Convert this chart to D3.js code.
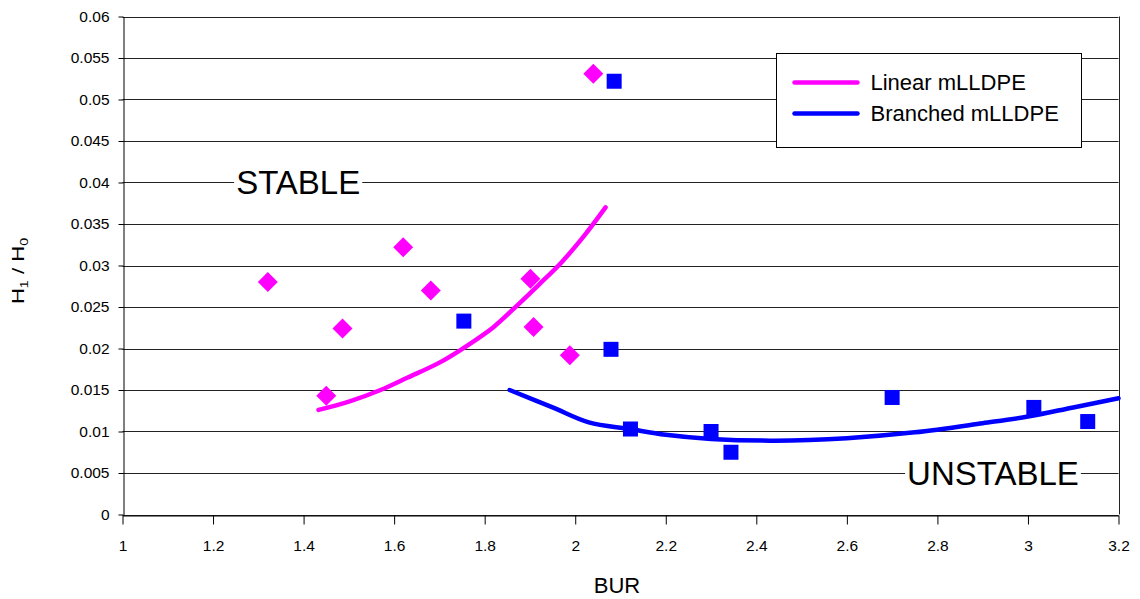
<!DOCTYPE html>
<html>
<head>
<meta charset="utf-8">
<script src="https://cdn.jsdelivr.net/npm/d3@7"></script>
<style>
  html, body { margin: 0; padding: 0; background: #fff; }
  svg { display: block; font-family: "Liberation Sans", Arial, sans-serif; }
</style>
</head>
<body>
<div id="chart"></div>
<script>
// measured points (BUR vs H1/H0)
const linearX = [1.321, 1.486, 1.450, 1.620, 1.681, 1.901, 1.908, 1.988, 2.040];
const linearY = [0.0280, 0.0224, 0.0143, 0.0322, 0.0270, 0.0284, 0.0226, 0.0192, 0.0531];
const branchedX = [1.754, 2.086, 2.079, 2.122, 2.300, 2.344, 2.700, 3.013, 3.132];
const branchedY = [0.0233, 0.0522, 0.0199, 0.0103, 0.0100, 0.0075, 0.0141, 0.0129, 0.0112];

// fitted curves
const linearFitX = [1.433, 1.50, 1.57, 1.63, 1.70, 1.76, 1.82, 1.872, 1.92, 1.97, 2.02, 2.067];
const linearFitY = [0.0126, 0.0136, 0.0150, 0.0165, 0.0183, 0.0203, 0.0226, 0.0252, 0.0277, 0.0304, 0.0336, 0.0370];
const branchedFitX = [1.855, 1.95, 2.03, 2.12, 2.20, 2.30, 2.44, 2.60, 2.75, 2.90, 3.00, 3.10, 3.20];
const branchedFitY = [0.0150, 0.0129, 0.0111, 0.0103, 0.0096, 0.0091, 0.0089, 0.0092, 0.0099, 0.0110, 0.0118, 0.0129, 0.0140];

const xTicks = [1, 1.2, 1.4, 1.6, 1.8, 2, 2.2, 2.4, 2.6, 2.8, 3, 3.2];
const yTicks = [0, 0.005, 0.01, 0.015, 0.02, 0.025, 0.03, 0.035, 0.04, 0.045, 0.05, 0.055, 0.06];
const seriesNames = ["Linear mLLDPE", "Branched mLLDPE"];
const seriesColors = ["#ff00ff", "#0000ff"];

const width = 1140, height = 599;

const svg = d3.select("#chart").append("svg")
    .attr("width", width)
    .attr("height", height);

const x = d3.scaleLinear().domain([1, 3.2]).range([122.5, 1118.5]);
const y = d3.scaleLinear().domain([0, 0.06]).range([514.5, 16.5]);

// gridlines
svg.append("g")
  .selectAll("line")
  .data(yTicks)
  .join("line")
    .attr("x1", x(1)).attr("x2", x(3.2))
    .attr("y1", d => Math.round(y(d)) + 0.5)
    .attr("y2", d => Math.round(y(d)) + 0.5)
    .attr("stroke", "#222")
    .attr("stroke-width", 1);

// right border
svg.append("line")
    .attr("x1", Math.round(x(3.2)) + 0.5).attr("x2", Math.round(x(3.2)) + 0.5)
    .attr("y1", y(0.06)).attr("y2", y(0))
    .attr("stroke", "#222");

// axes
const yAxis = svg.append("g")
    .attr("transform", `translate(${Math.round(x(1)) + 0.5},0)`)
    .call(d3.axisLeft(y).tickValues(yTicks).tickFormat(d3.format("")).tickSize(5).tickPadding(9).tickSizeOuter(0));
yAxis.selectAll("text").attr("font-size", 15.5).attr("fill", "#000");

const xAxis = svg.append("g")
    .attr("transform", `translate(0,${Math.round(y(0)) + 0.5})`)
    .call(d3.axisBottom(x).tickValues(xTicks).tickFormat(d3.format("")).tickSize(9).tickPadding(15).tickSizeOuter(0));
xAxis.selectAll("text").attr("font-size", 15.5).attr("fill", "#000");

svg.selectAll(".domain, .tick line").attr("stroke", "#000");

// region labels
function regionLabel(txt, xv, yv) {
  const g = svg.append("g");
  const t = g.append("text")
      .attr("x", x(xv))
      .attr("y", y(yv))
      .attr("dy", "0.35em")
      .attr("font-size", 33)
      .attr("fill", "#000")
      .text(txt);
  const bb = t.node().getBBox();
  g.insert("rect", "text")
      .attr("x", bb.x - 2).attr("y", bb.y + 4)
      .attr("width", bb.width + 4).attr("height", bb.height - 8)
      .attr("fill", "#fff");
}
regionLabel("STABLE", 1.251, 0.04);
regionLabel("UNSTABLE", 2.733, 0.005);

// fit curves
const line = d3.line()
    .x(d => x(d[0]))
    .y(d => y(d[1]))
    .curve(d3.curveCatmullRom);

const fits = [
  d3.zip(linearFitX, linearFitY),
  d3.zip(branchedFitX, branchedFitY)
];
svg.append("g")
  .selectAll("path")
  .data(fits)
  .join("path")
    .attr("d", line)
    .attr("fill", "none")
    .attr("stroke", (d, i) => seriesColors[i])
    .attr("stroke-width", 4.5)
    .attr("stroke-linecap", "round")
    .attr("stroke-linejoin", "round");

// markers
const diamond = d3.symbol().type(d3.symbolSquare).size(200);
svg.append("g")
  .selectAll("path")
  .data(d3.zip(linearX, linearY))
  .join("path")
    .attr("transform", d => `translate(${x(d[0])},${y(d[1])}) rotate(45)`)
    .attr("d", diamond)
    .attr("fill", seriesColors[0]);

svg.append("g")
  .selectAll("rect")
  .data(d3.zip(branchedX, branchedY))
  .join("rect")
    .attr("x", d => x(d[0]) - 7.5)
    .attr("y", d => y(d[1]) - 7.5)
    .attr("width", 15)
    .attr("height", 15)
    .attr("fill", seriesColors[1]);

// legend
const legend = svg.append("g").attr("transform", "translate(776.5,53.5)");
legend.append("rect")
    .attr("width", 305).attr("height", 94)
    .attr("fill", "#fff").attr("stroke", "#000");
const item = legend.selectAll("g.item")
  .data(seriesNames)
  .join("g")
    .attr("class", "item")
    .attr("transform", (d, i) => `translate(0,${29 + i * 31})`);
item.append("line")
    .attr("x1", 18).attr("x2", 81)
    .attr("stroke", (d, i) => seriesColors[i])
    .attr("stroke-width", 4.5)
    .attr("stroke-linecap", "round");
item.append("text")
    .attr("x", 94)
    .attr("dy", "0.35em")
    .attr("font-size", 22)
    .attr("fill", "#000")
    .text(d => d);

// axis titles
svg.append("text")
    .attr("x", 617)
    .attr("y", 593)
    .attr("text-anchor", "middle")
    .attr("font-size", 22)
    .attr("fill", "#000")
    .text("BUR");

const yTitle = svg.append("text")
    .attr("transform", "translate(24,271) rotate(-90) scale(1.3,1)")
    .attr("text-anchor", "middle")
    .attr("font-size", 17)
    .attr("fill", "#000");
yTitle.append("tspan").text("H");
yTitle.append("tspan").attr("font-size", 11).attr("dy", 4).text("1");
yTitle.append("tspan").attr("dy", -4).text(" / H");
yTitle.append("tspan").attr("font-size", 11).attr("dy", 4).text("0");
</script>
</body>
</html>
